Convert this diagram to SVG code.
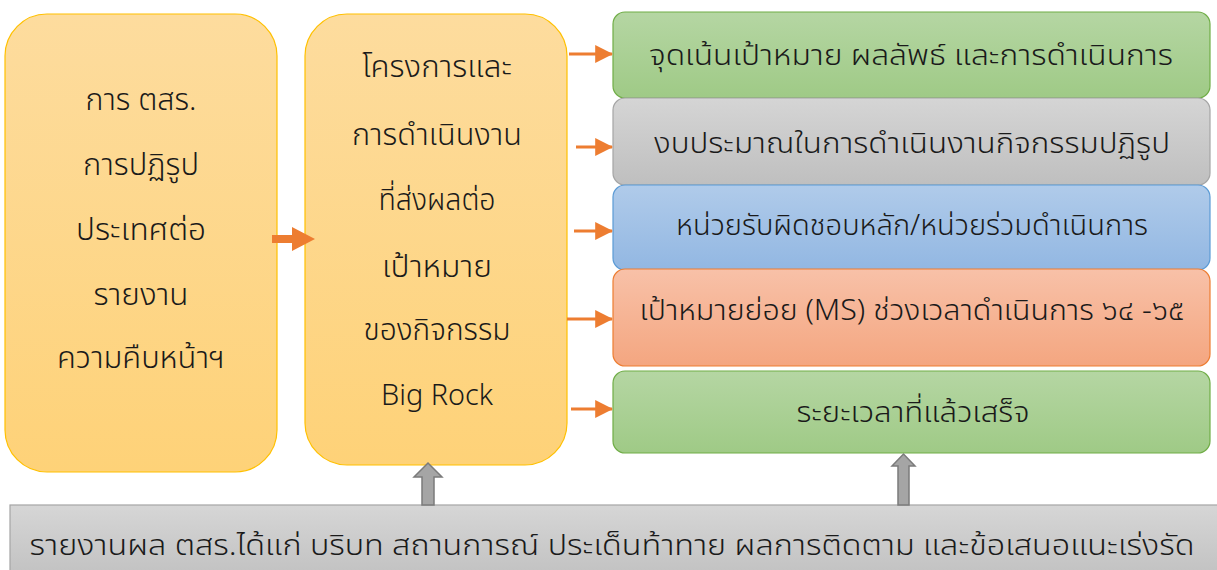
<svg xmlns="http://www.w3.org/2000/svg" width="1217" height="570" viewBox="0 0 1217 570">
<defs>
<linearGradient id="gY" x1="0" y1="0" x2="0" y2="1"><stop offset="0" stop-color="#fddc9e"/><stop offset="1" stop-color="#fed278"/></linearGradient>
<linearGradient id="gG" x1="0" y1="0" x2="0" y2="1"><stop offset="0" stop-color="#b5d6a3"/><stop offset="1" stop-color="#9fca86"/></linearGradient>
<linearGradient id="gR" x1="0" y1="0" x2="0" y2="1"><stop offset="0" stop-color="#d5d5d5"/><stop offset="1" stop-color="#bfbfbf"/></linearGradient>
<linearGradient id="gB" x1="0" y1="0" x2="0" y2="1"><stop offset="0" stop-color="#b0cbea"/><stop offset="1" stop-color="#92b7e2"/></linearGradient>
<linearGradient id="gS" x1="0" y1="0" x2="0" y2="1"><stop offset="0" stop-color="#f8c1a8"/><stop offset="1" stop-color="#f4a680"/></linearGradient>
<linearGradient id="gBar" x1="0" y1="0" x2="0" y2="1"><stop offset="0" stop-color="#d6d6d6"/><stop offset="1" stop-color="#c2c2c2"/></linearGradient>
<marker id="ah" markerWidth="6" markerHeight="6" refX="5.6" refY="3" orient="auto" markerUnits="strokeWidth"><path d="M0,0 L6,3 L0,6 Z" fill="#ed7d31"/></marker>
</defs>
<style>
text{font-family:"Noto Sans Thai","Noto Sans","DejaVu Sans",sans-serif;font-weight:300;fill:#1a1a1a;text-anchor:middle;font-size:29px}
.big{font-size:30px}
.yb{fill:url(#gY);stroke:#ffc000;stroke-width:1.2}
.conn{stroke:#ed7d31;stroke-width:3;fill:none;marker-end:url(#ah)}
.up{fill:#a5a5a5;stroke:#7b7b7b;stroke-width:1.5}
</style>
<g id="node-left">
<rect class="yb" x="5" y="14" width="272" height="458" rx="42"/>
<text class="big" x="141" y="110" textLength="111" lengthAdjust="spacingAndGlyphs">การ ตสร.</text>
<text class="big" x="141" y="175" textLength="116" lengthAdjust="spacingAndGlyphs">การปฏิรูป</text>
<text class="big" x="141" y="240" textLength="130" lengthAdjust="spacingAndGlyphs">ประเทศต่อ</text>
<text class="big" x="141" y="305" textLength="95" lengthAdjust="spacingAndGlyphs">รายงาน</text>
<text class="big" x="141" y="368" textLength="168" lengthAdjust="spacingAndGlyphs">ความคืบหน้าฯ</text>
</g>
<g id="node-middle">
<rect class="yb" x="305" y="14" width="262" height="451" rx="42"/>
<text class="big" x="437" y="77" textLength="150" lengthAdjust="spacingAndGlyphs">โครงการและ</text>
<text class="big" x="437" y="145" textLength="170" lengthAdjust="spacingAndGlyphs">การดำเนินงาน</text>
<text class="big" x="437" y="210" textLength="117" lengthAdjust="spacingAndGlyphs">ที่ส่งผลต่อ</text>
<text class="big" x="437" y="277" textLength="110" lengthAdjust="spacingAndGlyphs">เป้าหมาย</text>
<text class="big" x="437" y="340" textLength="147" lengthAdjust="spacingAndGlyphs">ของกิจกรรม</text>
<text class="big" x="437" y="405" textLength="112" lengthAdjust="spacingAndGlyphs">Big Rock</text>
</g>
<g id="node-r1">
<rect x="613" y="12" width="597" height="86" rx="12" fill="url(#gG)" stroke="#70ad47" stroke-width="1.2"/>
<text x="911" y="65" textLength="524" lengthAdjust="spacingAndGlyphs">จุดเน้นเป้าหมาย ผลลัพธ์ และการดำเนินการ</text>
</g>
<g id="node-r2">
<rect x="613" y="98" width="597" height="87" rx="12" fill="url(#gR)" stroke="#a5a5a5" stroke-width="1.2"/>
<text x="912" y="153" textLength="516" lengthAdjust="spacingAndGlyphs">งบประมาณในการดำเนินงานกิจกรรมปฏิรูป</text>
</g>
<g id="node-r3">
<rect x="613" y="185" width="597" height="85" rx="12" fill="url(#gB)" stroke="#5b9bd5" stroke-width="1.2"/>
<text x="912" y="235" textLength="472" lengthAdjust="spacingAndGlyphs">หน่วยรับผิดชอบหลัก/หน่วยร่วมดำเนินการ</text>
</g>
<g id="node-r4">
<rect x="613" y="269" width="597" height="97" rx="12" fill="url(#gS)" stroke="#ed7d31" stroke-width="1.2"/>
<text x="912" y="320" textLength="545" lengthAdjust="spacingAndGlyphs">เป้าหมายย่อย (MS) ช่วงเวลาดำเนินการ ๖๔ -๖๕</text>
</g>
<g id="node-r5">
<rect x="613" y="371" width="597" height="82" rx="12" fill="url(#gG)" stroke="#70ad47" stroke-width="1.2"/>
<text x="913" y="422" textLength="233" lengthAdjust="spacingAndGlyphs">ระยะเวลาที่แล้วเสร็จ</text>
</g>
<g id="node-bottom">
<rect x="10" y="505" width="1220" height="70" fill="url(#gBar)" stroke="#a5a5a5" stroke-width="1.2"/>
<text x="612" y="555" textLength="1165" lengthAdjust="spacingAndGlyphs">รายงานผล ตสร.ได้แก่ บริบท สถานการณ์ ประเด็นท้าทาย ผลการติดตาม และข้อเสนอแนะเร่งรัด</text>
</g>
<g id="connectors">
<path d="M272,235 H292 V227 L315,239 L292,251 V243 H272 Z" fill="#ed7d31"/>
<line class="conn" x1="569" y1="54" x2="612" y2="54"/>
<line class="conn" x1="576" y1="147" x2="612" y2="147"/>
<line class="conn" x1="574" y1="231" x2="612" y2="231"/>
<line class="conn" x1="567" y1="319" x2="612" y2="319"/>
<line class="conn" x1="571" y1="409" x2="612" y2="409"/>
<path class="up" d="M422,505 V477 H414 L428,463 L442,477 H434 V505 Z"/>
<path class="up" d="M898,505 V466 H892 L903.5,454 L915,466 H909 V505 Z"/>
</g>
</svg>
